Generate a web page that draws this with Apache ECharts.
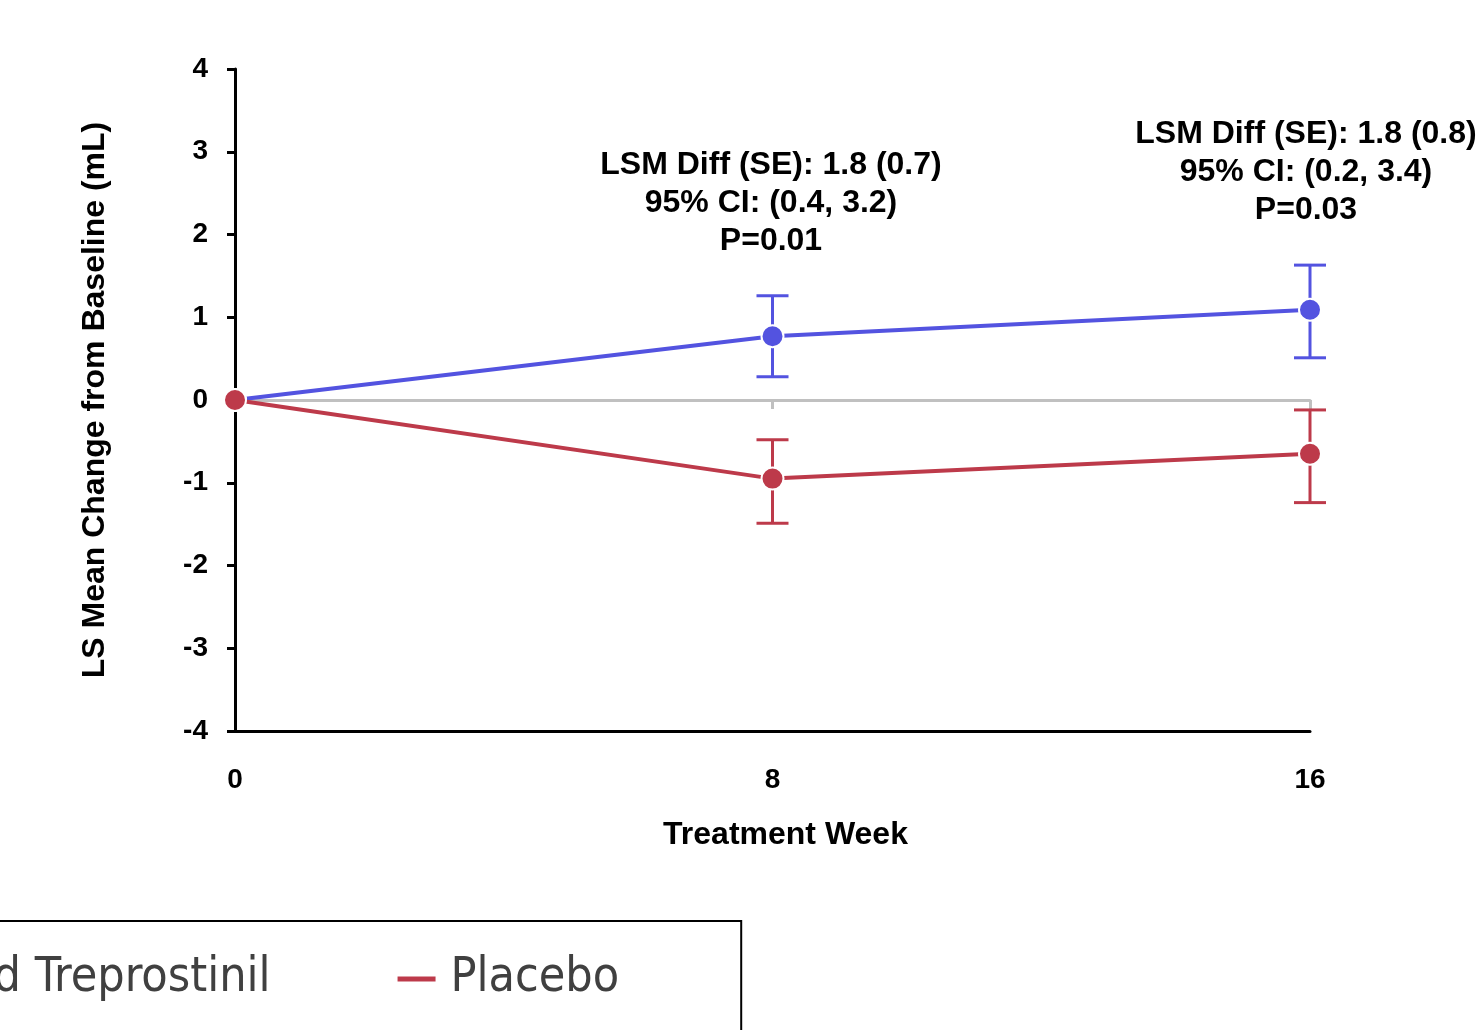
<!DOCTYPE html>
<html>
<head>
<meta charset="utf-8">
<script src="https://cdn.jsdelivr.net/npm/echarts@6/dist/echarts.min.js"></script>
<style>
html,body{margin:0;padding:0;background:#fff;}
#chart{width:1476px;height:1030px;}
</style>
</head>
<body>
<div id="chart"></div>
<script>
// ---- data ----
const weeks = [0, 8, 16];
const xTickLabels = ['0', '8', '16'];
const treprostinilMean = [0, 0.77, 1.09];
const treprostinilLow = [null, 0.28, 0.51];
const treprostinilHigh = [null, 1.26, 1.63];
const placeboMean = [0, -0.95, -0.65];
const placeboLow = [null, -1.49, -1.24];
const placeboHigh = [null, -0.48, -0.12];
const seriesNames = ['Inhaled Treprostinil', 'Placebo'];
const annotations = [
  'LSM Diff (SE): 1.8 (0.7)\n95% CI: (0.4, 3.2)\nP=0.01',
  'LSM Diff (SE): 1.8 (0.8)\n95% CI: (0.2, 3.4)\nP=0.03'
];

const BLUE = '#5353E0';
const RED = '#BD3A4A';
const FONT = '"Liberation Sans", Arial, sans-serif';

function errData(low, high) {
  const out = [];
  weeks.forEach((w, i) => { if (low[i] != null) out.push([w, low[i], high[i]]); });
  return out;
}
function errSeries(name, low, high, color) {
  return {
    type: 'custom', name: name, xAxisIndex: 0, yAxisIndex: 0, z: 2,
    data: errData(low, high),
    renderItem: function (params, api) {
      const x = api.coord([api.value(0), api.value(1)])[0];
      const yl = api.coord([api.value(0), api.value(1)])[1];
      const yh = api.coord([api.value(0), api.value(2)])[1];
      const hw = 16;
      const st = { stroke: color, lineWidth: 3 };
      return { type: 'group', children: [
        { type: 'line', shape: { x1: x, y1: yl, x2: x, y2: yh }, style: st },
        { type: 'line', shape: { x1: x - hw, y1: yl, x2: x + hw, y2: yl }, style: st },
        { type: 'line', shape: { x1: x - hw, y1: yh, x2: x + hw, y2: yh }, style: st }
      ]};
    },
    tooltip: { show: false }
  };
}

const chart = echarts.init(document.getElementById('chart'));
chart.setOption({
  animation: false,
  textStyle: { fontFamily: FONT },
  grid: { left: 235, right: 166, top: 69, bottom: 299, containLabel: false },
  xAxis: [
    {
      type: 'value', min: 0, max: 16, interval: 8, position: 'bottom',
      axisLine: { onZero: false, lineStyle: { color: '#000', width: 3 } },
      axisTick: { show: false },
      splitLine: { show: false },
      axisLabel: { color: '#000', fontSize: 28, fontWeight: 'bold', margin: 35, fontFamily: FONT,
        formatter: v => xTickLabels[weeks.indexOf(v)] ?? '' },
      name: 'Treatment Week', nameLocation: 'middle', nameGap: 88,
      nameTextStyle: { color: '#000', fontSize: 32, fontWeight: 'bold', fontFamily: FONT, padding: [0, 0, 0, 26] }
    },
    {
      type: 'value', min: 0, max: 16, interval: 8, position: 'top',
      axisLine: { onZero: true, lineStyle: { color: '#C0C0C0', width: 3 } },
      axisTick: { show: true, inside: true, length: 9, lineStyle: { color: '#C0C0C0', width: 3 } },
      axisLabel: { show: false },
      splitLine: { show: false }
    }
  ],
  yAxis: {
    type: 'value', min: -4, max: 4, interval: 1,
    axisLine: { show: true, onZero: false, lineStyle: { color: '#000', width: 3 } },
    axisTick: { show: true, length: 8, lineStyle: { color: '#000', width: 3 } },
    splitLine: { show: false },
    axisLabel: { color: '#000', fontSize: 28, fontWeight: 'bold', margin: 27, fontFamily: FONT },
    name: 'LS Mean Change from Baseline (mL)', nameLocation: 'middle', nameGap: 124, nameRotate: 90,
    nameTextStyle: { color: '#000', fontSize: 32, fontWeight: 'bold', fontFamily: FONT }
  },
  legend: {
    show: true, left: -224, top: 921, orient: 'horizontal',
    data: seriesNames,
    itemWidth: 40, itemHeight: 7, itemGap: 125, icon: 'rect',
    borderColor: '#000', borderWidth: 2, borderRadius: 0,
    padding: [34, 122, 44, 30],
    textStyle: { color: '#404040', fontSize: 48, fontFamily: '"Liberation Sans Narrow", "Arial Narrow", "DejaVu Sans Condensed", sans-serif', padding: [0, 0, 0, 9] }
  },
  series: [
    errSeries('errT', treprostinilLow, treprostinilHigh, BLUE),
    errSeries('errP', placeboLow, placeboHigh, RED),
    {
      name: seriesNames[0], type: 'line', xAxisIndex: 0, z: 3,
      data: weeks.map((w, i) => [w, treprostinilMean[i]]),
      lineStyle: { color: BLUE, width: 4 },
      itemStyle: { color: BLUE, borderColor: '#fff', borderWidth: 2 },
      symbol: 'circle', symbolSize: 22
    },
    {
      name: seriesNames[1], type: 'line', xAxisIndex: 0, z: 4,
      data: weeks.map((w, i) => [w, placeboMean[i]]),
      lineStyle: { color: RED, width: 4 },
      itemStyle: { color: RED, borderColor: '#fff', borderWidth: 2 },
      symbol: 'circle', symbolSize: 22
    }
  ],
  graphic: [
    { type: 'text', x: 771, y: 146, style: { text: annotations[0], font: 'bold 32px ' + FONT, fill: '#000', textAlign: 'center', lineHeight: 38 } },
    { type: 'text', x: 1306, y: 115, style: { text: annotations[1], font: 'bold 32px ' + FONT, fill: '#000', textAlign: 'center', lineHeight: 38 } }
  ]
});
</script>
</body>
</html>
